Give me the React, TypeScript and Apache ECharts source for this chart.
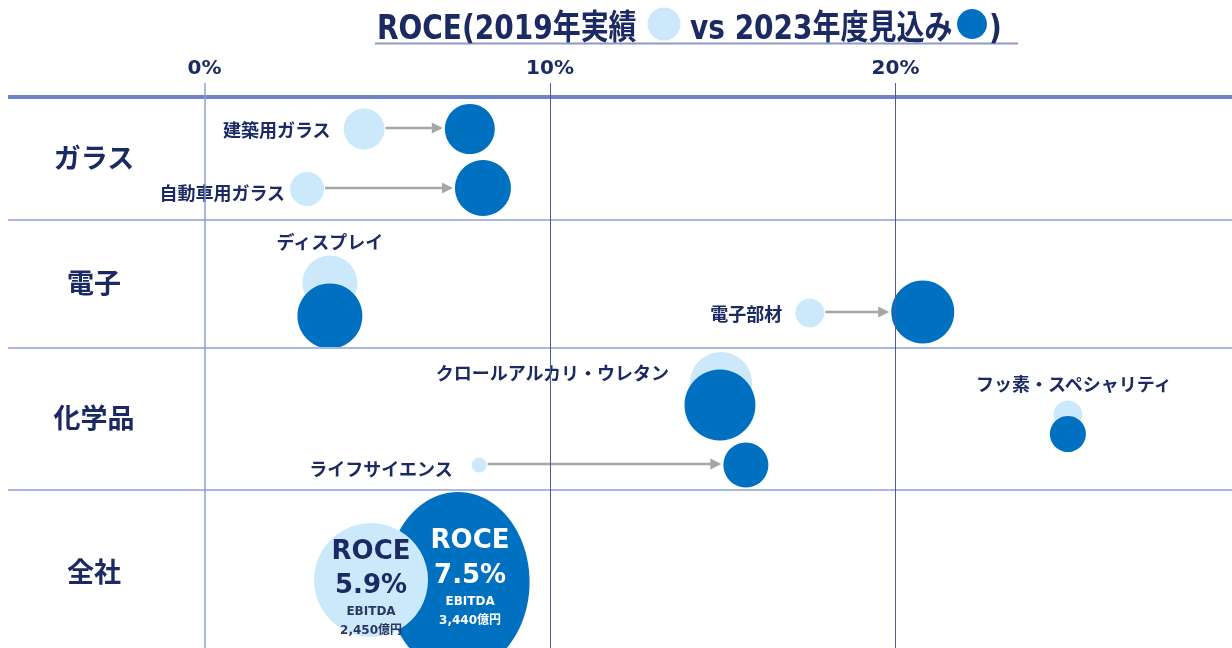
import React, { useEffect, useRef } from 'react';
import * as echarts from 'echarts';

// ---- data ----
const segments = ['建築用ガラス', '自動車用ガラス', 'ディスプレイ', '電子部材', 'クロールアルカリ・ウレタン', 'ライフサイエンス', 'フッ素・スペシャリティ'];
// x: ROCE position (%) of the 2019 actual and 2023 outlook bubbles
const roce2019 = [4.62, 2.97, 3.63, 17.52, 14.95, 7.95, 24.99];
const roce2023 = [7.68, 8.06, 3.63, 20.79, 14.92, 15.67, 24.99];
// y: vertical slot inside the section band (0 = top of plot)
const lane2019 = [46, 106, 200, 230, 300, 382, 332];
const lane2023 = [46, 105, 233, 229, 322, 382, 351];
// bubble diameters
const size2019 = [41, 34, 55, 29, 62, 15, 29];
const size2023 = [50, 56, 65, 63, 71, 45, 36];
// arrows between the two years
const arrowSegments = [0, 1, 3, 5];

// company total
const totalRoce = [4.82, 7.34];
const totalLane = [497, 499];
const totalSize: any[] = [114, [143, 180]];
const totalRoceText = ['5.9%', '7.5%'];
const totalEbitdaText = ['2,450億円', '3,440億円'];

// sections (rows)
const sections = ['ガラス', '電子', '化学品', '全社'];
const sectionCenter = [73, 198, 333, 487];
const sectionBorders = [14, 137, 265, 407];
const sectionLabelX = -3.2;

// x tick labels
const xTicks = [0, 10, 20];
const X_MIN = -5.687;
const X_MAX = 29.74;
const Y_MAX = 565;

const LIGHT = '#cce9fb';
const DARK = '#0070c0';
const NAVY = '#1b2a63';
const JP = '"Noto Sans CJK JP", sans-serif';
const LAT = '"DejaVu Sans", "Noto Sans CJK JP", sans-serif';

const labelPlacement: any[] = [
  { position: 'left', distance: 13 },
  { position: 'left', distance: 5, offset: [0, 3] },
  { position: 'top', distance: 6 },
  { position: 'left', distance: 13 },
  { position: 'left', distance: 21, offset: [0, -11] },
  { position: 'left', distance: 19, offset: [0, 3] },
  { position: 'top', distance: 9, offset: [6, 0] },
];

function buildOption(): any {
  const gridLines: any[] = [];
  sectionBorders.forEach((v, i) => {
    gridLines.push({
      yAxis: v,
      lineStyle: i === 0 ? { color: '#6f85c7', width: 4, type: 'solid' } : { color: '#a9b7e2', width: 2, type: 'solid' },
    });
  });
  xTicks.forEach((v, i) => {
    gridLines.push({
      xAxis: v,
      lineStyle: i === 0 ? { color: '#8e9fd6', width: 1.5, type: 'solid' } : { color: '#4d5c9e', width: 1, type: 'solid' },
    });
  });

  const arrowData = arrowSegments.map((i) => [roce2019[i], roce2023[i], lane2019[i], size2019[i], size2023[i]]);

  return {
    animation: false,
    grid: { left: 8, right: 0, top: 83, bottom: 0 },
    xAxis: {
      type: 'value',
      position: 'top',
      min: X_MIN,
      max: X_MAX,
      splitLine: { show: false },
      axisLine: { show: false },
      axisTick: { show: false },
      axisLabel: {
        customValues: xTicks,
        formatter: (v: number) => `${v}%`,
        color: NAVY,
        fontWeight: 'bold',
        fontSize: 20,
        fontFamily: LAT,
        margin: 6,
      },
    },
    yAxis: { type: 'value', inverse: true, min: 0, max: Y_MAX, show: false },
    graphic: [
      { type: 'text', x: 377, y: 27, scaleY: 1.2, z: 10, style: { text: 'ROCE(2019年実績', fontSize: 28, fontWeight: 'bold', fontFamily: LAT, fill: NAVY, align: 'left', verticalAlign: 'middle' } },
      { type: 'circle', shape: { cx: 664, cy: 24, r: 16.5 }, style: { fill: LIGHT } },
      { type: 'text', x: 690, y: 27, scaleY: 1.2, z: 10, style: { text: 'vs 2023年度見込み', fontSize: 28, fontWeight: 'bold', fontFamily: LAT, fill: NAVY, align: 'left', verticalAlign: 'middle' } },
      { type: 'circle', shape: { cx: 972, cy: 24, r: 15 }, style: { fill: DARK } },
      { type: 'text', x: 989, y: 27, scaleY: 1.2, z: 10, style: { text: ')', fontSize: 28, fontWeight: 'bold', fontFamily: LAT, fill: NAVY, align: 'left', verticalAlign: 'middle' } },
      { type: 'line', shape: { x1: 375, y1: 43.5, x2: 1018, y2: 43.5 }, style: { stroke: '#8c99c8', lineWidth: 2 } },
    ],
    series: [
      {
        name: 'grid',
        type: 'scatter',
        data: [],
        silent: true,
        z: 1,
        markLine: { silent: true, symbol: 'none', label: { show: false }, data: gridLines, animation: false },
      },
      {
        name: 'arrows',
        type: 'custom',
        silent: true,
        z: 2,
        encode: { x: [0, 1], y: 2 },
        data: arrowData,
        renderItem: (params: any, api: any) => {
          const y = api.value(2);
          const p1 = api.coord([api.value(0), y]);
          const p2 = api.coord([api.value(1), y]);
          const sx = p1[0] + api.value(3) / 2 + 1;
          const ex = p2[0] - api.value(4) / 2 - 2;
          const cy = p1[1] - 1;
          return {
            type: 'group',
            children: [
              { type: 'line', shape: { x1: sx, y1: cy, x2: ex - 8, y2: cy }, style: { stroke: '#a6a6a6', lineWidth: 2.5 } },
              { type: 'polygon', shape: { points: [[ex, cy], [ex - 11, cy - 5.5], [ex - 11, cy + 5.5]] }, style: { fill: '#a6a6a6' } },
            ],
          };
        },
      },
      {
        name: '2019年実績',
        type: 'scatter',
        z: 3,
        silent: true,
        symbol: 'circle',
        symbolSize: (_v: any, p: any) => size2019[p.dataIndex],
        itemStyle: { color: LIGHT, opacity: 1 },
        label: { show: true, formatter: '{b}', color: NAVY, fontSize: 18, fontWeight: 'bold', fontFamily: JP },
        data: segments.map((name, i) => ({ name, value: [roce2019[i], lane2019[i]], label: labelPlacement[i] })),
      },
      {
        name: '2023年度見込み',
        type: 'scatter',
        z: 4,
        silent: true,
        symbol: 'circle',
        symbolSize: (_v: any, p: any) => size2023[p.dataIndex],
        itemStyle: { color: DARK, opacity: 1 },
        data: segments.map((name, i) => ({ name, value: [roce2023[i], lane2023[i]] })),
      },
      {
        name: '全社2023',
        type: 'scatter',
        z: 4,
        silent: true,
        symbol: 'circle',
        symbolSize: totalSize[1],
        itemStyle: { color: DARK, opacity: 1 },
        label: {
          show: true,
          position: 'inside',
          offset: [12, -7],
          formatter: `{a|ROCE}\n{a|${totalRoceText[1]}}\n{b|EBITDA}\n{b|${totalEbitdaText[1]}}`,
          rich: {
            a: { color: '#ffffff', fontSize: 26, fontWeight: 'bold', fontFamily: LAT, lineHeight: 35, align: 'center' },
            b: { color: '#ffffff', fontSize: 12, fontWeight: 'bold', fontFamily: LAT, lineHeight: 19, align: 'center' },
          },
        },
        data: [{ name: '全社', value: [totalRoce[1], totalLane[1]] }],
      },
      {
        name: '全社2019',
        type: 'scatter',
        z: 5,
        silent: true,
        symbol: 'circle',
        symbolSize: totalSize[0],
        itemStyle: { color: LIGHT, opacity: 1 },
        label: {
          show: true,
          position: 'inside',
          offset: [0, 6],
          formatter: `{a|ROCE}\n{a|${totalRoceText[0]}}\n{b|EBITDA}\n{b|${totalEbitdaText[0]}}`,
          rich: {
            a: { color: NAVY, fontSize: 26, fontWeight: 'bold', fontFamily: LAT, lineHeight: 34, align: 'center' },
            b: { color: '#2a3760', fontSize: 12, fontWeight: 'bold', fontFamily: LAT, lineHeight: 19, align: 'center' },
          },
        },
        data: [{ name: '全社', value: [totalRoce[0], totalLane[0]] }],
      },
      {
        name: 'sections',
        type: 'custom',
        z: 6,
        silent: true,
        encode: { x: 0, y: 1 },
        data: sections.map((name, i) => [sectionLabelX, sectionCenter[i], name]),
        renderItem: (params: any, api: any) => {
          const p = api.coord([api.value(0), api.value(1)]);
          return {
            type: 'text',
            x: p[0],
            y: p[1],
            style: {
              text: sections[params.dataIndex],
              fill: NAVY,
              fontSize: 27,
              fontWeight: 'bold',
              fontFamily: JP,
              align: 'center',
              verticalAlign: 'middle',
            },
          };
        },
      },
    ],
  };
}

export default function App() {
  const ref = useRef<HTMLDivElement>(null);
  useEffect(() => {
    const chart = echarts.init(ref.current as HTMLDivElement, null, { renderer: 'svg' });
    chart.setOption(buildOption());
    return () => chart.dispose();
  }, []);
  return <div ref={ref} style={{ position: 'fixed', left: 0, top: 0, width: 1232, height: 648 }} />;
}
